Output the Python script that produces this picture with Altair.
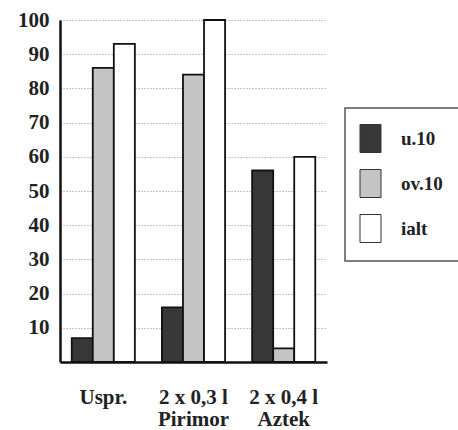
import altair as alt
import pandas as pd

# Treatments (x groups) and the three measured series
groups = ["Uspr.", "2 x 0,3 l\nPirimor", "2 x 0,4 l\nAztek"]
series = ["u.10", "ov.10", "ialt"]
u10 = [7, 16, 56]
ov10 = [86, 84, 4]
ialt = [93, 100, 60]
y_ticks = [10, 20, 30, 40, 50, 60, 70, 80, 90, 100]
colors = ["#383838", "#c4c4c4", "#ffffff"]

rows = []
for name, vals in zip(series, [u10, ov10, ialt]):
    for g, v in zip(groups, vals):
        rows.append({"group": g, "series": name, "value": v})
df = pd.DataFrame(rows)

FONT = "Liberation Serif"

bars = alt.Chart(df).mark_bar(stroke="#111111", strokeWidth=1.8).encode(
    x=alt.X(
        "group:N",
        sort=groups,
        scale=alt.Scale(paddingInner=0.3, paddingOuter=0.13),
        axis=alt.Axis(
            title=None,
            labelAngle=0,
            ticks=False,
            labelPadding=24,
            labelExpr="split(datum.label, '\\n')",
            labelLineHeight=22,
            labelFont=FONT,
            labelFontSize=21,
            labelFontWeight="bold",
            labelColor="#222222",
            domainColor="#111111",
            domainWidth=2.5,
            grid=False,
        ),
    ),
    xOffset=alt.XOffset("series:N", sort=series, scale=alt.Scale(paddingInner=0, paddingOuter=0)),
    y=alt.Y(
        "value:Q",
        scale=alt.Scale(domain=[0, 100], nice=False),
        axis=alt.Axis(
            title=None,
            values=y_ticks,
            ticks=False,
            labelPadding=11,
            labelFont=FONT,
            labelFontSize=21,
            labelFontWeight="bold",
            labelColor="#222222",
            domainColor="#111111",
            domainWidth=2.5,
            grid=True,
            gridColor="#8a8a8a",
            gridDash=[1, 2],
            gridWidth=1,
        ),
    ),
    color=alt.Color(
        "series:N",
        sort=series,
        title=None,
        scale=alt.Scale(domain=series, range=colors),
        legend=alt.Legend(
            orient="none",
            legendX=285,
            legendY=88,
            symbolType="M-0.75,-1H0.75V1H-0.75Z",
            symbolSize=784,
            symbolOffset=-5,
            symbolStrokeColor="#333333",
            symbolStrokeWidth=1,
            symbolOpacity=1,
            labelFont=FONT,
            labelFontSize=19,
            labelFontWeight="bold",
            labelColor="#222222",
            labelOffset=16,
            rowPadding=12,
            padding=16,
            strokeColor="#555555",
            fillColor="#ffffff",
        ),
    ),
)

chart = bars.properties(
    width=267,
    height=342,
    autosize="none",
    padding={"left": 60, "top": 20, "right": 131, "bottom": 68},
    background="#ffffff",
).configure_view(stroke=None).configure_legend(strokeWidth=1.5)

chart.save("out.html", embed_options={"renderer": "svg", "actions": False})
